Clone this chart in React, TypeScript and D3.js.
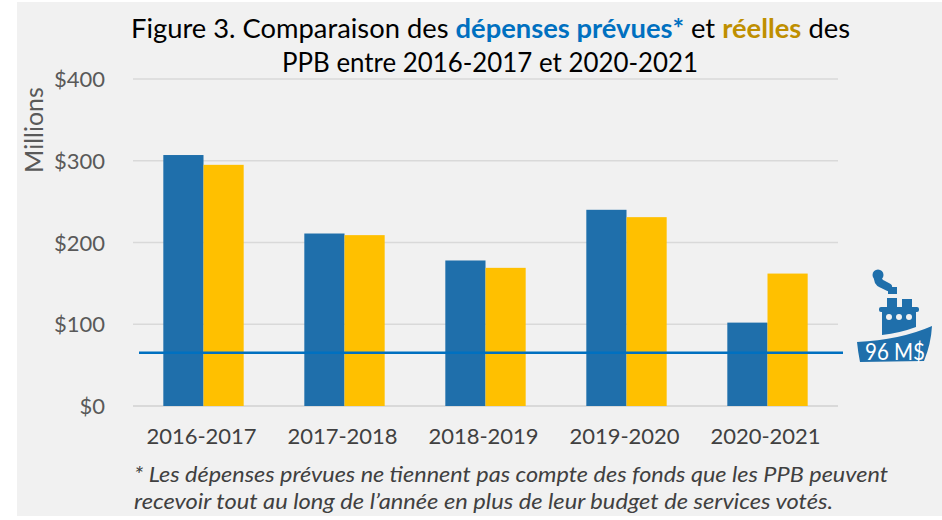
import React from "react";
import * as d3 from "d3";

const categories = ["2016-2017", "2017-2018", "2018-2019", "2019-2020", "2020-2021"];
const planned = [307, 211, 178, 240, 102];
const actual = [295, 209, 169, 231, 162];
const yTicks = [0, 100, 200, 300, 400];
const refValue = 65;
const refLabel = "96 M$";

const BLUE = "#1f6fab";
const GOLD = "#ffc000";
const FONT = "Lato, 'Open Sans', sans-serif";

const y = d3.scaleLinear().domain([0, 400]).range([406, 79]);
const x = d3.scaleBand().domain(categories).range([133, 838]).paddingInner(0.43).paddingOuter(0.215);
const sub = d3.scaleBand().domain(["planned", "actual"]).range([0, x.bandwidth()]);

export default function App() {
  return (
    <svg
      width={942}
      height={520}
      style={{ position: "absolute", left: 0, top: 0, background: "#fff" }}
      fontFamily={FONT}
    >
      <rect x={17} y={2} width={925} height={514} fill="#f1f1f1" />

      {/* grid + y axis */}
      {yTicks.map((t) => (
        <g key={t}>
          <line x1={133} x2={838} y1={y(t)} y2={y(t)} stroke="#d9d9d9" strokeWidth={t === 0 ? 2 : 1.5} />
          <text x={105} y={y(t) + 8} textAnchor="end" fontSize={22} fill="#595959">
            ${t}
          </text>
        </g>
      ))}
      <text
        transform="translate(43,130) rotate(-90)"
        textAnchor="middle"
        fontSize={25}
        fill="#595959"
      >
        Millions
      </text>

      {/* bars */}
      {categories.map((c, i) => (
        <g key={c} transform={`translate(${x(c)},0)`}>
          <rect x={sub("planned")} y={y(planned[i])} width={sub.bandwidth()} height={y(0) - y(planned[i])} fill={BLUE} />
          <rect x={sub("actual")} y={y(actual[i])} width={sub.bandwidth()} height={y(0) - y(actual[i])} fill={GOLD} />
          <text x={x.bandwidth() / 2 - 2} y={444} textAnchor="middle" fontSize={22} fill="#404040">
            {c}
          </text>
        </g>
      ))}

      {/* reference line */}
      <line x1={139} x2={843} y1={y(refValue)} y2={y(refValue)} stroke="#0070c0" strokeWidth={2.5} />

      {/* ship */}
      <g fill={BLUE}>
        <path d="M857 342 Q900 340 932 326 Q931 344 924 361 L860 362 Q858 352 857 342 Z" />
        <path d="M882 312 H916 V327 Q900 333 882 335 Z" />
        <rect x={879} y={307} width={40} height={5} rx={2} />
        <rect x={887} y={298} width={10} height={10} />
        <rect x={902} y={299} width={10} height={9} />
        <rect x={888} y={287} width={9} height={7} />
        <path d="M878 275 Q877 282 882 284 L888 287" fill="none" stroke={BLUE} strokeWidth={8} strokeLinecap="round" />
        <circle cx={878} cy={275} r={5.5} />
      </g>
      <g fill="#f1f1f1">
        {[889, 899, 909].map((cx) => (
          <circle key={cx} cx={cx} cy={317} r={3} />
        ))}
      </g>
      <text x={865} y={360} fontSize={24} fill="#fff" textLength={60} lengthAdjust="spacingAndGlyphs">
        {refLabel}
      </text>

      {/* title */}
      <text x={131} y={38} fontSize={26.5} fill="#000" textLength={719} lengthAdjust="spacingAndGlyphs">
        Figure 3. Comparaison des{" "}
        <tspan fontWeight={700} fill="#0070c0">dépenses prévues*</tspan> et{" "}
        <tspan fontWeight={700} fill="#bf8f00">réelles</tspan> des
      </text>
      <text x={282} y={72} fontSize={26} fill="#000" textLength={416} lengthAdjust="spacingAndGlyphs">
        PPB entre 2016-2017 et 2020-2021
      </text>

      {/* footnote */}
      <g fontSize={22} fontStyle="italic" fill="#404040">
        <text x={134} y={482} textLength={754} lengthAdjust="spacingAndGlyphs">* Les dépenses prévues ne tiennent pas compte des fonds que les PPB peuvent</text>
        <text x={134} y={509} textLength={699} lengthAdjust="spacingAndGlyphs">recevoir tout au long de l’année en plus de leur budget de services votés.</text>
      </g>
    </svg>
  );
}
